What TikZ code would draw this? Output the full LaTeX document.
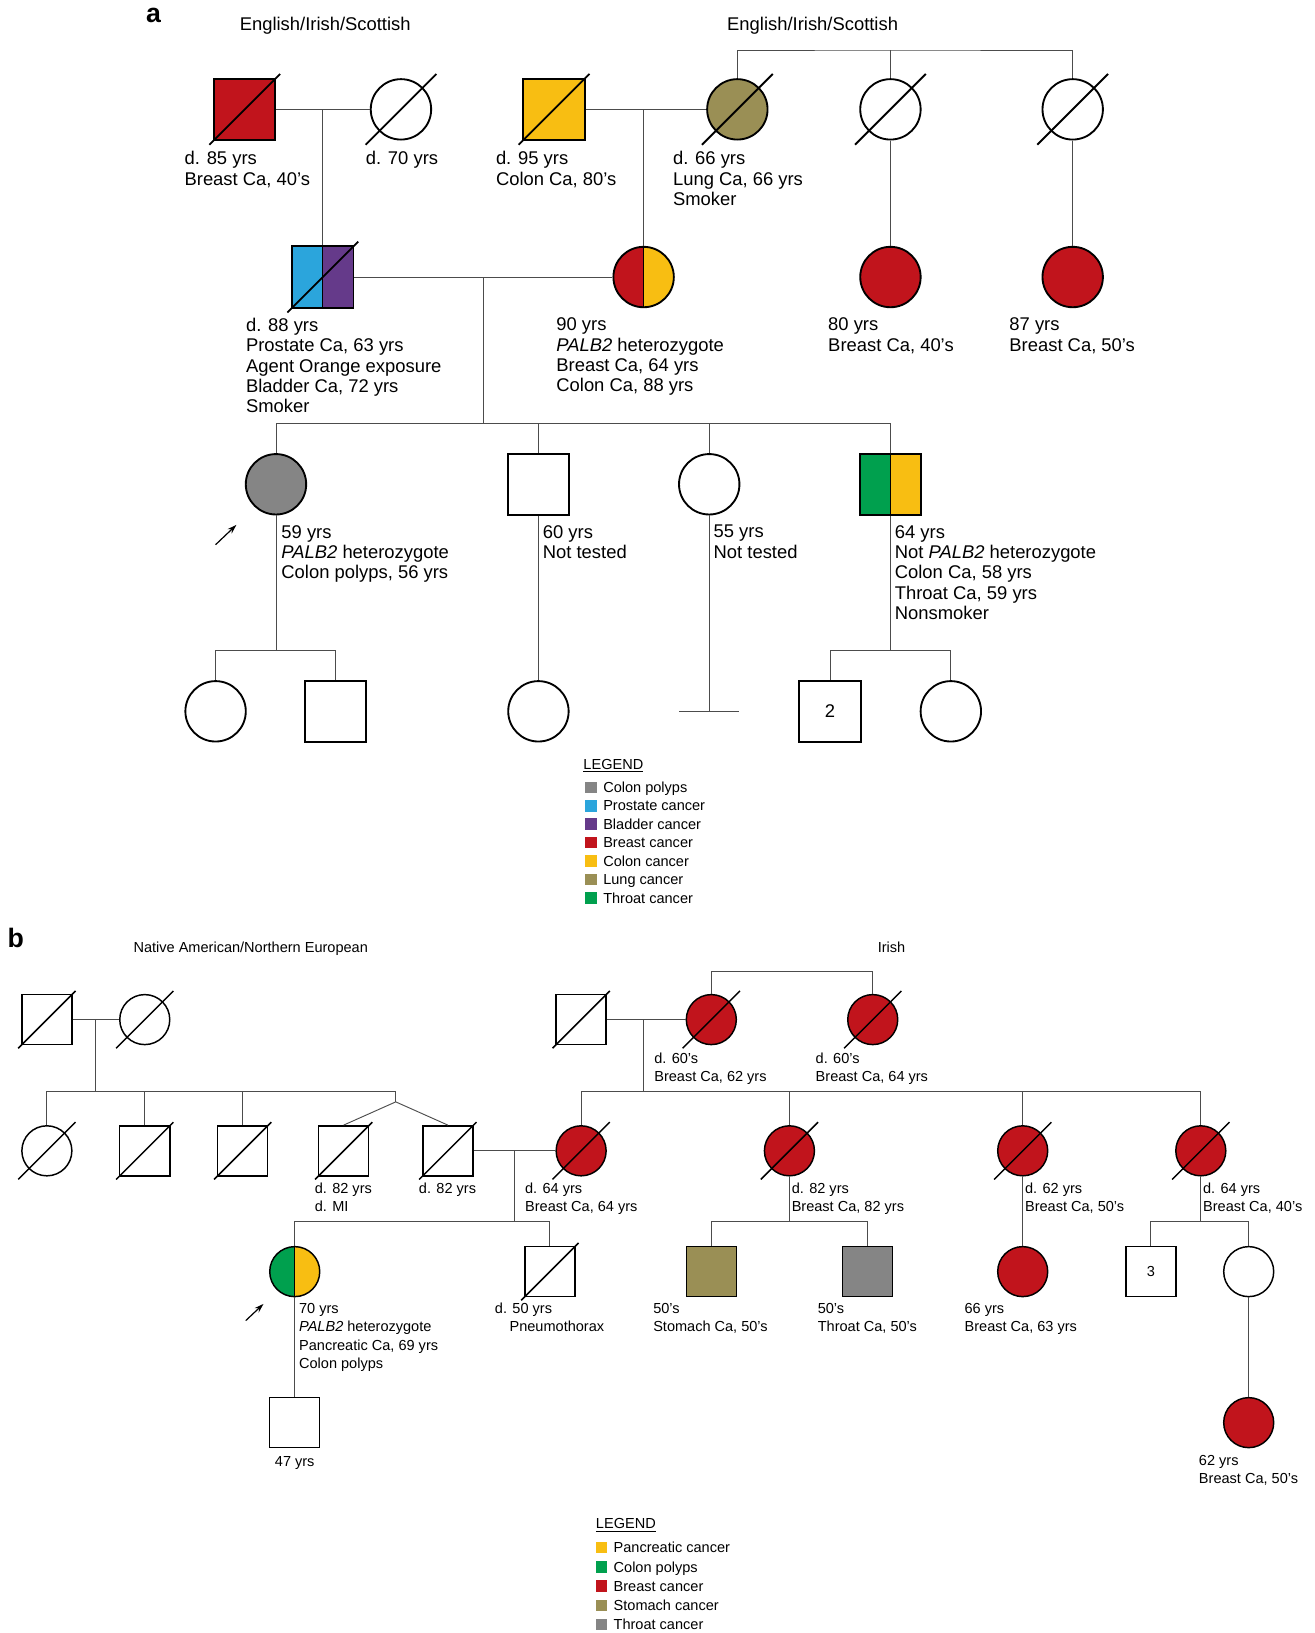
\documentclass[tikz,border=0pt]{standalone}
\usepackage{fontspec}
\setmainfont{Liberation Sans}
\usetikzlibrary{arrows.meta}
\definecolor{cRed}{HTML}{C1141C}
\definecolor{cYel}{HTML}{F8BE12}
\definecolor{cOli}{HTML}{9A8F55}
\definecolor{cBlu}{HTML}{2BA5DC}
\definecolor{cPur}{HTML}{653A8A}
\definecolor{cGry}{HTML}{858585}
\definecolor{cGrn}{HTML}{00A04E}
\newcommand\fontA{\fontsize{13.8pt}{15.3pt}\selectfont}
\newcommand\fontB{\fontsize{10.9pt}{13.3pt}\selectfont}
\newcommand\fontL{\fontsize{10.9pt}{13pt}\selectfont}
\newcommand\decA[1]{\draw[line width=1.4pt] (#1.center) ++(-34,34) -- ++(68,-68);}
\newcommand\decB[1]{\draw[line width=1.1pt] (#1.center) ++(-27.5,27.5) -- ++(55,-55);}
\tikzset{
  ln/.style={draw=black!70, line width=0.7pt},
  sqA/.style={rectangle, draw, line width=1.4pt, minimum size=46pt, inner sep=0pt, font=\fontA},
  ciA/.style={circle, draw, line width=1.4pt, minimum size=45.3pt, inner sep=0pt},
  sqB/.style={rectangle, draw, line width=1.1pt, minimum size=37.5pt, inner sep=0pt, font=\fontB},
  ciB/.style={circle, draw, line width=1.1pt, minimum size=37.5pt, inner sep=0pt},
  half/.style 2 args={fill=#2, path picture={
      \fill[#1] (path picture bounding box.south west) rectangle (path picture bounding box.north);
      \draw[line width=0.8pt] (path picture bounding box.south) -- (path picture bounding box.north);}},
  tA/.style={anchor=north west, inner sep=0pt, align=left, font=\fontA},
  tB/.style={anchor=north west, inner sep=0pt, align=left, font=\fontB},
  lgA/.style={anchor=base west, inner sep=0pt, font=\fontL},
  sw/.style={rectangle, inner sep=0pt, minimum size=8.6pt},
  arr/.style={line width=0.9pt, -{Stealth[length=7pt,width=4.5pt]}},
}
\begin{document}
\begin{tikzpicture}[x=0.7809pt, y=-0.7809pt]
\useasboundingbox (0,0) rectangle (1262,1568);
% ================= PART A =================
\node[anchor=base west, inner sep=0pt, font=\fontsize{20pt}{22pt}\selectfont\bfseries] (la) at (140,22) {a};
\node[tA] (hA1) at (230,16) {English/Irish/Scottish};
\node[tA] (hA2) at (698,16) {English/Irish/Scottish};
% generation I
\node[sqA, fill=cRed] (A1) at (235,105) {};
\node[ciA] (A2) at (385,105) {};
\node[sqA, fill=cYel] (A3) at (532,105) {};
\node[ciA, fill=cOli] (A4) at (708,105) {};
\node[ciA] (A5) at (855,105) {};
\node[ciA] (A6) at (1030,105) {};
\decA{A1}\decA{A2}\decA{A3}\decA{A4}\decA{A5}\decA{A6}
% generation II
\node[sqA, half={cBlu}{cPur}] (A7) at (310,266) {};
\node[ciA, half={cRed}{cYel}] (A8) at (618,266) {};
\node[ciA, fill=cRed] (A9) at (855,266) {};
\node[ciA, fill=cRed] (A10) at (1030,266) {};
\decA{A7}
% generation III
\node[ciA, fill=cGry] (B1) at (265,465) {};
\node[sqA] (B2) at (517,465) {};
\node[ciA] (B3) at (681,465) {};
\node[sqA, half={cGrn}{cYel}] (B4) at (855,465) {};
% generation IV
\node[ciA] (C1) at (207,683) {};
\node[sqA] (C2) at (322,683) {};
\node[ciA] (C3) at (517,683) {};
\node[sqA] (C4) at (797,683) {2};
\node[ciA] (C5) at (913,683) {};
% connectors A
\coordinate (mA1) at (310,105);
\coordinate (mA2) at (618,105);
\coordinate (sA0) at (855,48);
\coordinate (mA3) at (464,266);
\coordinate (sA1) at (464,407);
\coordinate (sA2) at (265,625);
\coordinate (sA3) at (855,625);
\coordinate (nc) at (681,683);
\draw[ln] (A1.east) -- (A2.west);
\draw[ln] (mA1) -- (A7.north);
\draw[ln] (A3.east) -- (A4.west);
\draw[ln] (mA2) -- (A8.north);
\draw[ln] (A4.north) |- (sA0) -| (A6.north);
\draw[ln] (A5.north) -- (sA0);
\draw[ln] (A5.south) -- (A9.north);
\draw[ln] (A6.south) -- (A10.north);
\draw[ln] (A7.east) -- (A8.west);
\draw[ln] (mA3) -- (sA1);
\draw[ln] (B1.north) |- (sA1) -| (B4.north);
\draw[ln] (B2.north) -- (B2.north |- sA1);
\draw[ln] (B3.north) -- (B3.north |- sA1);
\draw[ln] (B1.south) -- (sA2);
\draw[ln] (C1.north) |- (sA2) -| (C2.north);
\draw[ln] (B2.south) -- (C3.north);
\draw[ln] (B3.south) -- (nc);
\draw[ln] (nc) ++(-29,0) -- ++(58,0);
\draw[ln] (B4.south) -- (sA3);
\draw[ln] (C4.north) |- (sA3) -| (C5.north);
\coordinate (pa1) at (207,523);
\coordinate (pa2) at (227,504);
\draw[arr] (pa1) -- (pa2);
% texts A
\node[tA] (tA1) at (177,145) {d. 85 yrs\\Breast Ca, 40’s};
\node[tA] (tA2) at (351,145) {d. 70 yrs};
\node[tA] (tA3) at (476,145) {d. 95 yrs\\Colon Ca, 80’s};
\node[tA] (tA4) at (646,145) {d. 66 yrs\\Lung Ca, 66 yrs\\Smoker};
\node[tA] (tA5) at (236,305) {d. 88 yrs\\Prostate Ca, 63 yrs\\Agent Orange exposure\\Bladder Ca, 72 yrs\\Smoker};
\node[tA] (tA6) at (534,305) {90 yrs\\\textit{PALB2} heterozygote\\Breast Ca, 64 yrs\\Colon Ca, 88 yrs};
\node[tA] (tA7) at (795,305) {80 yrs\\Breast Ca, 40’s};
\node[tA] (tA8) at (969,305) {87 yrs\\Breast Ca, 50’s};
\node[tA] (tA9) at (270,504) {59 yrs\\\textit{PALB2} heterozygote\\Colon polyps, 56 yrs};
\node[tA] (tA10) at (521,504) {60 yrs\\Not tested};
\node[tA] (tA11) at (685,504) {55 yrs\\Not tested};
\node[tA] (tA12) at (859,504) {64 yrs\\Not \textit{PALB2} heterozygote\\Colon Ca, 58 yrs\\Throat Ca, 59 yrs\\Nonsmoker};
% legend A
\node[lgA] (LA) at (560,739) {\underline{LEGEND}};
\foreach \c/\t [count=\i from 0] in {cGry/Colon polyps, cBlu/Prostate cancer, cPur/Bladder cancer, cRed/Breast cancer, cYel/Colon cancer, cOli/Lung cancer, cGrn/Throat cancer}{
  \node[sw, fill=\c] (LAs\i) at (567.5,756+17.7*\i) {};
  \node[lgA] (LAt\i) at (579,761+17.7*\i) {\t};
}
% ================= PART B =================
\node[anchor=base west, inner sep=0pt, font=\fontsize{20pt}{22pt}\selectfont\bfseries] (lb) at (7,910) {b};
\node[anchor=base west, inner sep=0pt, font=\fontB] (hB1) at (128,915) {Native American/Northern European};
\node[anchor=base, inner sep=0pt, font=\fontB] (hB2) at (856,915) {Irish};
% generation I
\node[sqB] (D1) at (45,979) {};
\node[ciB] (D2) at (139,979) {};
\node[sqB] (D3) at (558,979) {};
\node[ciB, fill=cRed] (D4) at (683,979) {};
\node[ciB, fill=cRed] (D5) at (838,979) {};
\decB{D1}\decB{D2}\decB{D3}\decB{D4}\decB{D5}
% generation II
\node[ciB] (E1) at (45,1105) {};
\node[sqB] (E2) at (139,1105) {};
\node[sqB] (E3) at (233,1105) {};
\node[sqB] (E4) at (330,1105) {};
\node[sqB] (E5) at (430,1105) {};
\node[ciB, fill=cRed] (E6) at (558,1105) {};
\node[ciB, fill=cRed] (E7) at (758,1105) {};
\node[ciB, fill=cRed] (E8) at (982,1105) {};
\node[ciB, fill=cRed] (E9) at (1153,1105) {};
\decB{E1}\decB{E2}\decB{E3}\decB{E4}\decB{E5}\decB{E6}\decB{E7}\decB{E8}\decB{E9}
% generation III
\node[ciB, half={cGrn}{cYel}] (F1) at (283,1221) {};
\node[sqB] (F2) at (528,1221) {};
\node[sqB, fill=cOli] (F3) at (683,1221) {};
\node[sqB, fill=cGry] (F4) at (833,1221) {};
\node[ciB, fill=cRed] (F5) at (982,1221) {};
\node[sqB] (F6) at (1105,1221) {3};
\node[ciB] (F7) at (1199,1221) {};
\decB{F2}
% generation IV
\node[sqB] (G1) at (283,1366) {};
\node[ciB, fill=cRed] (G2) at (1199,1366) {};
% connectors B
\coordinate (mB1) at (92,979);
\coordinate (sB1) at (92,1048);
\coordinate (twT) at (380,1048);
\coordinate (twA) at (380,1058);
\coordinate (sB0) at (760,933);
\coordinate (mB2) at (618,979);
\coordinate (sB2) at (618,1048);
\coordinate (mB3) at (494,1105);
\coordinate (sB3) at (494,1173);
\coordinate (sB4) at (758,1173);
\coordinate (sB5) at (1153,1173);
\draw[ln] (D1.east) -- (D2.west);
\draw[ln] (mB1) -- (sB1);
\draw[ln] (E1.north) |- (sB1) -- (twT) -- (twA);
\draw[ln] (E2.north) -- (E2.north |- sB1);
\draw[ln] (E3.north) -- (E3.north |- sB1);
\draw[ln] (E4.north) -- (twA) -- (E5.north);
\draw[ln] (D4.north) |- (sB0) -| (D5.north);
\draw[ln] (D3.east) -- (D4.west);
\draw[ln] (mB2) -- (sB2);
\draw[ln] (E6.north) |- (sB2) -| (E9.north);
\draw[ln] (E7.north) -- (E7.north |- sB2);
\draw[ln] (E8.north) -- (E8.north |- sB2);
\draw[ln] (E5.east) -- (E6.west);
\draw[ln] (mB3) -- (sB3);
\draw[ln] (F1.north) |- (sB3) -| (F2.north);
\draw[ln] (E7.south) -- (sB4);
\draw[ln] (F3.north) |- (sB4) -| (F4.north);
\draw[ln] (E8.south) -- (F5.north);
\draw[ln] (E9.south) -- (sB5);
\draw[ln] (F6.north) |- (sB5) -| (F7.north);
\draw[ln] (F1.south) -- (G1.north);
\draw[ln] (F7.south) -- (G2.north);
\coordinate (pb1) at (236,1268);
\coordinate (pb2) at (253,1252);
\draw[arr] (pb1) -- (pb2);
% texts B
\node[tB] (tB1) at (628,1011) {d. 60’s\\Breast Ca, 62 yrs};
\node[tB] (tB2) at (783,1011) {d. 60’s\\Breast Ca, 64 yrs};
\node[tB] (tB3) at (302,1136) {d. 82 yrs\\d. MI};
\node[tB] (tB4) at (402,1136) {d. 82 yrs};
\node[tB] (tB5) at (504,1136) {d. 64 yrs\\Breast Ca, 64 yrs};
\node[tB] (tB6) at (760,1136) {d. 82 yrs\\Breast Ca, 82 yrs};
\node[tB] (tB7) at (984,1136) {d. 62 yrs\\Breast Ca, 50’s};
\node[tB] (tB8) at (1155,1136) {d. 64 yrs\\Breast Ca, 40’s};
\node[tB, font=\fontsize{10.9pt}{13.8pt}\selectfont] (tB9) at (287,1251) {70 yrs\\\textit{PALB2} heterozygote\\Pancreatic Ca, 69 yrs\\Colon polyps};
\node[tB] (tB10) at (475,1251) {d. 50 yrs\\\hspace*{11pt}Pneumothorax};
\node[tB] (tB11) at (627,1251) {50’s\\Stomach Ca, 50’s};
\node[tB] (tB12) at (785,1251) {50’s\\Throat Ca, 50’s};
\node[tB] (tB13) at (926,1251) {66 yrs\\Breast Ca, 63 yrs};
\node[tB] (tB14) at (1151,1397) {62 yrs\\Breast Ca, 50’s};
\node[anchor=north, inner sep=0pt, font=\fontB] (tB15) at (283,1398) {47 yrs};
% legend B
\node[lgA] (LB) at (572,1468) {\underline{LEGEND}};
\foreach \c/\t [count=\i from 0] in {cYel/Pancreatic cancer, cGrn/Colon polyps, cRed/Breast cancer, cOli/Stomach cancer, cGry/Throat cancer}{
  \node[sw, fill=\c] (LBs\i) at (577.5,1486+18.5*\i) {};
  \node[lgA] (LBt\i) at (589,1491+18.5*\i) {\t};
}
\end{tikzpicture}
\end{document}
